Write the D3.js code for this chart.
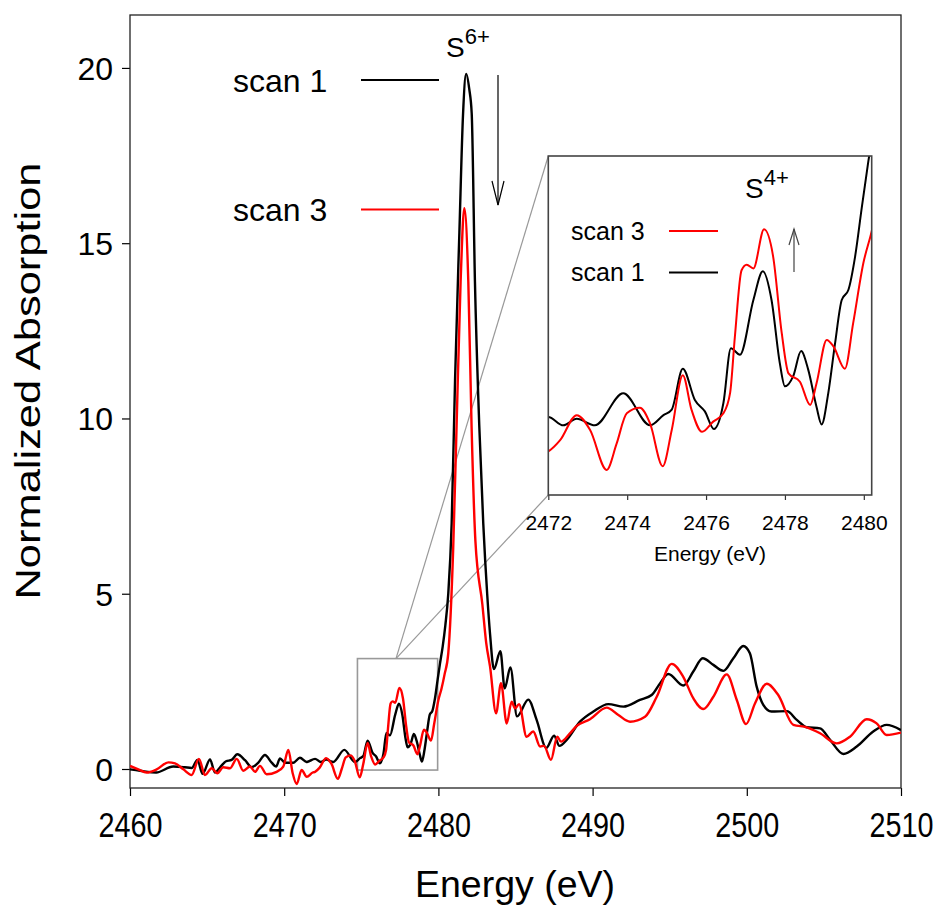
<!DOCTYPE html>
<html>
<head>
<meta charset="utf-8">
<script src="https://cdn.jsdelivr.net/npm/d3@7"></script>
<style>
  body { margin: 0; background: #fff; }
  text { font-family: Arial, "Liberation Sans", sans-serif; fill: #000; }
</style>
</head>
<body>
<div id="chart"></div>
<script>
// scan 1 (black) and scan 3 (red): [energy eV, normalized absorption]
const scan1 = [
  [2460.0, -0.01], [2460.65, -0.05], [2461.7, -0.10], [2462.8, 0.07], [2463.55, 0.05],
  [2464.0, 0.03], [2464.37, 0.26], [2464.71, -0.14], [2465.19, 0.27], [2465.51, -0.10],
  [2465.84, 0.05], [2466.23, 0.22], [2466.59, 0.26], [2466.96, 0.42], [2467.46, 0.25],
  [2467.89, 0.05], [2468.32, 0.18], [2468.75, 0.40], [2469.19, 0.18], [2469.47, 0.07],
  [2469.73, 0.30], [2470.05, 0.18], [2470.59, 0.18], [2471.02, 0.32], [2471.46, 0.20],
  [2472.0, 0.29], [2472.38, 0.20], [2472.72, 0.27], [2473.18, 0.20], [2473.9, 0.545],
  [2474.58, 0.20], [2474.92, 0.31], [2475.13, 0.37], [2475.41, 0.81], [2475.72, 0.47],
  [2475.97, 0.35], [2476.2, 0.16], [2476.44, 0.44], [2476.63, 1.03], [2476.86, 0.96],
  [2477.2, 1.55], [2477.44, 1.86], [2477.66, 1.55], [2477.87, 0.87], [2478.0, 0.62],
  [2478.21, 0.73], [2478.41, 1.0], [2478.59, 0.80], [2478.8, 0.40], [2478.93, 0.21],
  [2479.1, 0.55], [2479.27, 1.08], [2479.44, 1.55], [2479.61, 1.66], [2479.78, 2.02],
  [2479.95, 2.55], [2480.1, 3.0], [2480.28, 3.5], [2480.45, 4.1], [2480.64, 5.0],
  [2480.86, 7.0], [2481.08, 11.1], [2481.36, 15.3], [2481.6, 18.7], [2481.8, 19.83],
  [2482.0, 19.4], [2482.16, 18.7], [2482.37, 13.9], [2482.65, 9.8], [2482.91, 7.0],
  [2483.17, 4.95], [2483.35, 3.85], [2483.6, 2.85], [2484.02, 3.36], [2484.3, 2.3],
  [2484.67, 2.9], [2485.1, 1.5], [2485.83, 1.98], [2486.37, 1.40], [2487.0, 0.6],
  [2487.5, 0.95], [2487.85, 0.66], [2488.32, 0.83], [2489.18, 1.35], [2490.05, 1.64],
  [2491.02, 1.85], [2492.0, 1.78], [2493.07, 1.97], [2493.83, 2.11], [2494.37, 2.44],
  [2494.91, 2.71], [2495.88, 2.38], [2496.53, 2.78], [2497.14, 3.16], [2497.83, 2.97],
  [2498.48, 2.80], [2499.13, 3.16], [2499.77, 3.51], [2500.2, 3.30], [2500.64, 2.35],
  [2501.07, 1.83], [2501.6, 1.64], [2502.6, 1.65], [2503.24, 1.40], [2503.89, 1.19],
  [2504.75, 1.16], [2505.4, 0.83], [2506.26, 0.43], [2507.13, 0.64], [2508.2, 1.07],
  [2509.07, 1.26], [2510.0, 1.11]
];

const scan3 = [
  [2460.0, 0.09], [2460.54, -0.01], [2461.08, -0.10], [2461.73, -0.01], [2462.49, 0.19],
  [2462.92, 0.16], [2463.46, -0.01], [2464.0, -0.17], [2464.47, 0.29], [2464.86, -0.17],
  [2465.3, 0.02], [2465.66, -0.12], [2466.05, 0.05], [2466.49, 0.02], [2466.92, 0.29],
  [2467.35, -0.05], [2467.78, 0.07], [2468.11, -0.08], [2468.43, 0.09], [2468.86, -0.15],
  [2469.51, -0.08], [2469.94, 0.07], [2470.27, 0.54], [2470.55, -0.12], [2470.81, -0.43],
  [2471.13, -0.03], [2471.46, -0.22], [2471.85, -0.10], [2472.0, -0.08], [2472.3, 0.04],
  [2472.72, 0.31], [2473.06, 0.15], [2473.48, -0.28], [2473.73, 0.0], [2473.99, 0.33],
  [2474.32, 0.39], [2474.58, 0.22], [2474.9, -0.24], [2475.13, 0.15], [2475.41, 0.74],
  [2475.63, 0.37], [2475.9, 0.13], [2476.18, 0.24], [2476.44, 0.33], [2476.61, 0.55],
  [2476.73, 1.15], [2476.9, 1.87], [2477.03, 1.93], [2477.2, 1.89], [2477.47, 2.31],
  [2477.7, 2.02], [2477.92, 1.19], [2478.09, 0.76], [2478.38, 0.67], [2478.64, 0.42],
  [2478.8, 0.65], [2479.06, 1.12], [2479.23, 1.05], [2479.52, 0.81], [2479.73, 1.30],
  [2479.99, 1.95], [2480.2, 2.29], [2480.4, 2.7], [2480.64, 3.3], [2480.96, 6.3],
  [2481.18, 9.8], [2481.44, 13.9], [2481.68, 16.0], [2481.94, 13.9], [2482.15, 9.8],
  [2482.4, 6.5], [2482.85, 4.7], [2483.1, 3.6], [2483.35, 2.92], [2483.74, 1.59],
  [2484.06, 2.45], [2484.43, 1.30], [2484.75, 1.92], [2484.97, 1.73], [2485.23, 1.85],
  [2485.72, 0.92], [2486.15, 1.07], [2486.6, 0.64], [2486.85, 0.66], [2487.3, 0.26],
  [2487.71, 0.92], [2487.95, 0.78], [2488.5, 1.0], [2488.97, 1.23], [2489.83, 1.42],
  [2490.91, 1.75], [2491.67, 1.54], [2492.43, 1.35], [2493.4, 1.49], [2494.16, 2.06],
  [2495.13, 3.0], [2495.88, 2.63], [2496.53, 2.02], [2497.18, 1.71], [2497.83, 2.06],
  [2498.7, 2.70], [2499.35, 1.97], [2499.95, 1.28], [2500.53, 1.87], [2501.29, 2.43],
  [2502.04, 2.11], [2503.02, 1.26], [2503.89, 1.19], [2504.75, 1.02], [2505.83, 0.73],
  [2506.69, 0.92], [2507.78, 1.42], [2508.42, 1.30], [2509.07, 0.97], [2510.0, 1.04]
];

const xTicks = [2460, 2470, 2480, 2490, 2500, 2510];
const yTicks = [0, 5, 10, 15, 20];
const insetTicks = [2472, 2474, 2476, 2478, 2480];
const zoomBox = { e0: 2474.75, e1: 2479.95, v0: -0.03, v1: 3.15, eLink: 2477.25 };

const svg = d3.select("#chart").append("svg")
  .attr("width", 946).attr("height", 918)
  .style("background", "#fff");

const x = d3.scaleLinear().domain([2460, 2510]).range([130, 901]);
const y = d3.scaleLinear().domain([-0.542, 21.51]).range([788, 15]);
const xi = d3.scaleLinear().domain([2472, 2480.2]).range([548.3, 871.7]);
const yi = d3.scaleLinear().domain([-0.55, 3.1]).range([495, 156]);

const defs = svg.append("defs");
defs.append("clipPath").attr("id", "clipMain").append("rect")
  .attr("x", 130).attr("y", 15).attr("width", 771).attr("height", 773);
defs.append("clipPath").attr("id", "clipInset").append("rect")
  .attr("x", 548.3).attr("y", 156).attr("width", 323.4).attr("height", 339);

// main axes
svg.append("g").attr("transform", "translate(0,788)")
  .call(d3.axisBottom(x).tickValues(xTicks).tickSize(8).tickSizeOuter(0).tickPadding(10).tickFormat(d3.format("d")))
  .call(g => g.select(".domain").remove())
  .call(g => g.selectAll("line").attr("stroke", "#000").attr("stroke-width", 1.2))
  .call(g => g.selectAll("text").style("font-size", "35px").attr("textLength", 64)
    .attr("lengthAdjust", "spacingAndGlyphs").attr("dy", "0.72em").attr("y", 24));

svg.append("g").attr("transform", "translate(130,0)")
  .call(d3.axisLeft(y).tickValues(yTicks).tickSize(8).tickSizeOuter(0).tickPadding(9))
  .call(g => g.select(".domain").remove())
  .call(g => g.selectAll("line").attr("stroke", "#000").attr("stroke-width", 1.2))
  .call(g => g.selectAll("text").style("font-size", "32px").attr("dy", "0.36em"));

svg.append("rect").attr("x", 130).attr("y", 15).attr("width", 771).attr("height", 773)
  .attr("fill", "none").attr("stroke", "#222").attr("stroke-width", 1.3);

svg.append("text").attr("x", 515).attr("y", 897).attr("text-anchor", "middle")
  .style("font-size", "36px").attr("textLength", 200).attr("lengthAdjust", "spacingAndGlyphs")
  .text("Energy (eV)");

svg.append("text").attr("transform", "translate(40,381) rotate(-90)").attr("text-anchor", "middle")
  .style("font-size", "35px").attr("textLength", 437).attr("lengthAdjust", "spacingAndGlyphs")
  .text("Normalized Absorption");

// zoom box and connector lines
svg.append("rect")
  .attr("x", x(zoomBox.e0)).attr("y", y(zoomBox.v1))
  .attr("width", x(zoomBox.e1) - x(zoomBox.e0)).attr("height", y(zoomBox.v0) - y(zoomBox.v1))
  .attr("fill", "none").attr("stroke", "#999").attr("stroke-width", 1.6);
[[548.3, 156], [548.3, 495]].forEach(p => {
  svg.append("line").attr("x1", x(zoomBox.eLink)).attr("y1", y(zoomBox.v1))
    .attr("x2", p[0]).attr("y2", p[1]).attr("stroke", "#999").attr("stroke-width", 1.2);
});

const line = d3.line().x(d => x(d[0])).y(d => y(d[1])).curve(d3.curveMonotoneX);
const main = svg.append("g").attr("clip-path", "url(#clipMain)");
main.append("path").datum(scan1).attr("d", line).attr("fill", "none").attr("stroke", "#000").attr("stroke-width", 2.4);
main.append("path").datum(scan3).attr("d", line).attr("fill", "none").attr("stroke", "#ff0000").attr("stroke-width", 2.4);

// main legend
const legend = [
  { label: "scan 1", color: "#000", ty: 92, ly: 80 },
  { label: "scan 3", color: "#ff0000", ty: 221, ly: 209.5 }
];
legend.forEach(d => {
  svg.append("text").attr("x", 233).attr("y", d.ty).style("font-size", "32px").text(d.label);
  svg.append("line").attr("x1", 361).attr("x2", 439).attr("y1", d.ly).attr("y2", d.ly)
    .attr("stroke", d.color).attr("stroke-width", 2.2);
});

const s6 = svg.append("text").attr("x", 446).attr("y", 57).style("font-size", "28px");
s6.append("tspan").text("S");
s6.append("tspan").attr("dy", -13).style("font-size", "22px").text("6+");

// down arrow
svg.append("line").attr("x1", 498).attr("x2", 498).attr("y1", 75).attr("y2", 205)
  .attr("stroke", "#000").attr("stroke-width", 1.2);
svg.append("path").attr("d", "M492,181 L498,205 L504,181").attr("fill", "none")
  .attr("stroke", "#000").attr("stroke-width", 1.2);

// inset
const inset = svg.append("g");
inset.append("rect").attr("x", 548.3).attr("y", 156).attr("width", 323.4).attr("height", 339).attr("fill", "#fff");

const lineI = d3.line().x(d => xi(d[0])).y(d => yi(d[1])).curve(d3.curveMonotoneX);
const insetLines = inset.append("g").attr("clip-path", "url(#clipInset)");
insetLines.append("path").datum(scan1).attr("d", lineI).attr("fill", "none").attr("stroke", "#000").attr("stroke-width", 2);
insetLines.append("path").datum(scan3).attr("d", lineI).attr("fill", "none").attr("stroke", "#ff0000").attr("stroke-width", 2);

inset.append("g").attr("transform", "translate(0,495)")
  .call(d3.axisBottom(xi).tickValues(insetTicks).tickSize(5).tickSizeOuter(0).tickPadding(6).tickFormat(d3.format("d")))
  .call(g => g.select(".domain").remove())
  .call(g => g.selectAll("line").attr("stroke", "#333").attr("stroke-width", 1.2))
  .call(g => g.selectAll("text").style("font-size", "21px").attr("dy", null).attr("y", 35));

inset.append("rect").attr("x", 548.3).attr("y", 156).attr("width", 323.4).attr("height", 339)
  .attr("fill", "none").attr("stroke", "#444").attr("stroke-width", 1.6);

inset.append("text").attr("x", 710).attr("y", 561).attr("text-anchor", "middle")
  .style("font-size", "21px").text("Energy (eV)");

const insetLegend = [
  { label: "scan 3", color: "#ff0000", ty: 240, ly: 231 },
  { label: "scan 1", color: "#000", ty: 281, ly: 272.5 }
];
insetLegend.forEach(d => {
  inset.append("text").attr("x", 571).attr("y", d.ty).style("font-size", "25px").text(d.label);
  inset.append("line").attr("x1", 669).attr("x2", 718).attr("y1", d.ly).attr("y2", d.ly)
    .attr("stroke", d.color).attr("stroke-width", 2);
});

const s4 = inset.append("text").attr("x", 745).attr("y", 198).style("font-size", "28px");
s4.append("tspan").text("S");
s4.append("tspan").attr("dy", -13).style("font-size", "22px").text("4+");

// up arrow
inset.append("line").attr("x1", 794).attr("x2", 794).attr("y1", 272).attr("y2", 229)
  .attr("stroke", "#444").attr("stroke-width", 1.2);
inset.append("path").attr("d", "M789,245 L794,229 L799,245").attr("fill", "none")
  .attr("stroke", "#444").attr("stroke-width", 1.2);
</script>
</body>
</html>
